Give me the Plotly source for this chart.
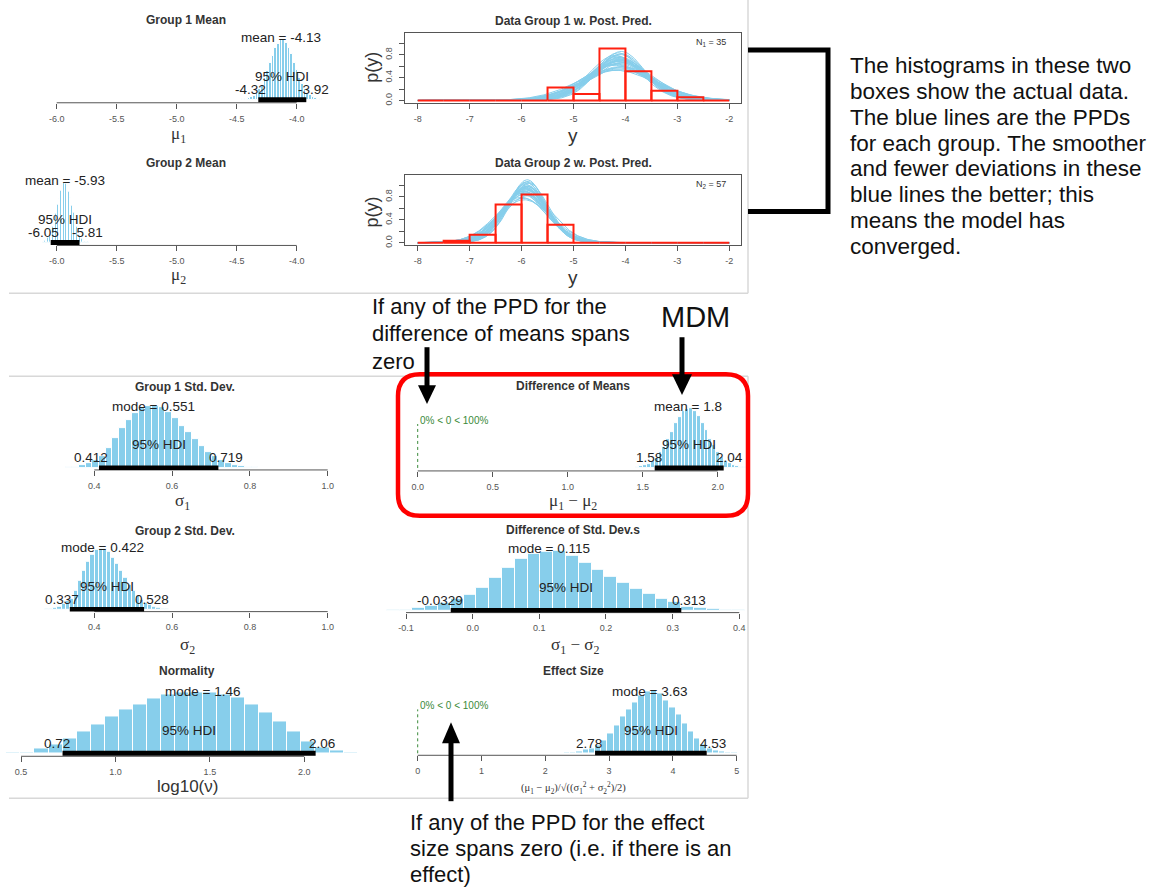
import math
import numpy as np
import plotly.graph_objects as go

W, H = 1153, 888
SANS = "Liberation Sans, Arial, sans-serif"
SERIF = "Liberation Serif, DejaVu Serif, serif"
SKY = "#87CEEB"

# ---------------- posterior histograms (bar heights, arbitrary units) ----------------
g1_mean_edge0 = -4.453
g1_mean_binw = 0.0222
g1_mean_hist = [0.4, 0.8, 1.5, 2.6, 4.2, 7.0, 10.6, 15.2, 21.8, 28.6, 36.9, 44.2, 51.6, 56.4, 59.8,
                59.5, 57.3, 51.8, 45.6, 37.3, 29.9, 22.1, 16.3, 10.8, 7.3, 4.4, 2.8, 1.4, 0.8, 0.4]
g1_mean_center = -4.13
g1_mean_hdi = [-4.32, -3.92]

g2_mean_edge0 = -6.130
g2_mean_binw = 0.0133
g2_mean_hist = [0.3, 0.9, 1.5, 2.4, 4.6, 6.8, 11.2, 15.4, 22.5, 28.7, 37.6, 44.3, 52.4, 56.5, 60.0,
                59.2, 57.3, 51.1, 45.4, 36.6, 29.6, 21.5, 16.1, 10.5, 7.2, 4.2, 2.7, 1.3, 0.9, 0.4]
g2_mean_center = -5.93
g2_mean_hdi = [-6.05, -5.81]

g1_sd_edge0 = 0.3096
g1_sd_binw = 0.01706
g1_sd_hist = [0.3, 0.6, 1.2, 2.5, 4.5, 8, 12, 20, 30, 40, 48, 55, 60, 62, 62, 61, 56, 50, 42, 36,
              29, 22, 16, 12, 7.5, 5, 3, 1.8, 1.0, 0.6, 0.3, 0.15]
g1_sd_mode = 0.551
g1_sd_hdi = [0.412, 0.719]

g2_sd_edge0 = 0.2734
g2_sd_binw = 0.0106
g2_sd_hist = [0.4, 0.8, 1.6, 3, 5.5, 8.5, 11, 19, 29, 39, 48, 55, 59.5, 61, 61, 57.5, 52, 46, 39, 32,
              25, 19, 14, 10, 7, 4.5, 2.8, 1.7, 1.0, 0.6, 0.3, 0.15]
g2_sd_mode = 0.422
g2_sd_hdi = [0.337, 0.528]

nu_edge0 = 0.4224
nu_binw = 0.0744
nu_hist = [0.5, 1.3, 4.7, 8.5, 14.5, 22.3, 29, 36.7, 44, 49, 54.7, 59, 60.7, 61.3, 60.7, 59, 55.7,
           49, 40.7, 32.3, 22.3, 11.5, 5.7, 3.3, 0.9]
nu_mode = 1.46
nu_hdi = [0.72, 2.06]

dm_edge0 = 1.4264
dm_binw = 0.0256
dm_hist = [0.3, 0.7, 1.4, 2.7, 4.1, 7.2, 10.3, 15.6, 21.2, 29.3, 36.2, 44.8, 51.0, 57.0, 59.3,
           60.0, 56.6, 52.4, 45.0, 37.9, 29.2, 22.6, 15.8, 11.2, 7.0, 4.6, 2.6, 1.5, 0.7, 0.4]
dm_mean = 1.8
dm_hdi = [1.58, 2.04]

dsd_edge0 = -0.1481
dsd_binw = 0.0192
dsd_hist = [0.3, 0.6, 1.3, 2.7, 5, 8.3, 11.7, 16, 23, 33, 43, 52, 57, 59, 60, 55, 48, 41, 34, 28,
            22, 17, 12, 8.5, 4, 2.7, 1.7, 1, 0.5]
dsd_mode = 0.115
dsd_hdi = [-0.0329, 0.313]

es_edge0 = 2.1968
es_binw = 0.0972
es_hist = [0.3, 0.6, 1.2, 2.2, 3.5, 5.2, 8, 13, 20, 28, 37, 44, 51, 58, 62, 63, 60, 53, 46, 39, 30,
           22, 15, 9, 5.2, 3.2, 2, 1.2, 0.6, 0.3]
es_mode = 3.63
es_hdi = [2.78, 4.53]

# ---------------- tick values ----------------
mean_ticks = [-6.0, -5.5, -5.0, -4.5, -4.0]
mean_ticktext = ["-6.0", "-5.5", "-5.0", "-4.5", "-4.0"]
sd_ticks = [0.4, 0.6, 0.8, 1.0]
sd_ticktext = ["0.4", "0.6", "0.8", "1.0"]
nu_ticks = [0.5, 1.0, 1.5, 2.0]
nu_ticktext = ["0.5", "1.0", "1.5", "2.0"]
dm_ticks = [0.0, 0.5, 1.0, 1.5, 2.0]
dm_ticktext = ["0.0", "0.5", "1.0", "1.5", "2.0"]
dsd_ticks = [-0.1, 0.0, 0.1, 0.2, 0.3, 0.4]
dsd_ticktext = ["-0.1", "0.0", "0.1", "0.2", "0.3", "0.4"]
es_ticks = [0, 1, 2, 3, 4, 5]
es_ticktext = ["0", "1", "2", "3", "4", "5"]
y_ticks = [-8, -7, -6, -5, -4, -3, -2]
y_ticktext = ["-8", "-7", "-6", "-5", "-4", "-3", "-2"]
py_ticks = [0.0, 0.2, 0.4, 0.6, 0.8, 1.0]
py_ticktext = ["0.0", "", "0.4", "", "0.8", ""]

# ---------------- observed data + posterior predictive draws ----------------
data_bin_edges = [-8.0, -7.5, -7.0, -6.5, -6.0, -5.5, -5.0, -4.5, -4.0, -3.5, -3.0, -2.5, -2.0]
g1_counts = [0, 0, 0, 0, 0, 4, 2, 16, 9, 3, 1, 0]
g2_counts = [0, 1, 4, 19, 24, 9, 0, 0, 0, 0, 0, 0]
N1, N2 = 35, 57

ppd_mu1 = [-4.13, -4.08, -4.18, -4.10, -4.15, -4.05, -4.20, -4.12, -4.16, -4.09, -4.14, -4.11, -4.22,
           -4.07, -4.13, -4.17, -4.04, -4.12, -4.19, -4.10, -4.14, -4.06, -4.16, -4.11, -4.13, -4.08,
           -4.21, -4.15, -4.09, -4.12]
ppd_sigma1 = [0.55, 0.48, 0.62, 0.52, 0.58, 0.66, 0.50, 0.71, 0.54, 0.60, 0.47, 0.57, 0.64, 0.53, 0.69,
              0.51, 0.59, 0.56, 0.75, 0.49, 0.61, 0.55, 0.52, 0.67, 0.58, 0.46, 0.63, 0.54, 0.57, 0.73]
ppd_mu2 = [-5.93, -5.90, -5.97, -5.88, -5.95, -5.92, -6.00, -5.91, -5.94, -5.86, -5.96, -5.93, -5.89,
           -5.99, -5.92, -5.95, -5.90, -5.98, -5.93, -5.87, -5.94, -5.91, -5.96, -5.92, -5.89, -5.97,
           -5.93, -5.95, -5.90, -5.94]
ppd_sigma2 = [0.42, 0.39, 0.46, 0.37, 0.44, 0.41, 0.50, 0.40, 0.43, 0.38, 0.47, 0.42, 0.36, 0.45, 0.41,
              0.53, 0.40, 0.44, 0.39, 0.48, 0.42, 0.37, 0.45, 0.43, 0.40, 0.51, 0.41, 0.44, 0.38, 0.46]
ppd_nu = [29, 18, 45, 25, 60, 12, 33, 22, 80, 28, 15, 40, 26, 9, 35, 55, 20, 31, 70, 24, 38, 14, 27,
          48, 19, 30, 100, 23, 42, 17]

# ---------------- helpers ----------------
def PX(px):
    return px / W


def PY(py):
    return 1 - py / H


def lin_range(ta, tb, lo_px, hi_px):
    (va, pa), (vb, pb) = ta, tb
    s = (pb - pa) / (vb - va)
    return [va + (lo_px - pa) / s, va + (hi_px - pa) / s]


def t_pdf(x, mu, sigma, nu):
    c = math.exp(math.lgamma((nu + 1) / 2) - math.lgamma(nu / 2)) / (math.sqrt(nu * math.pi) * sigma)
    return c * (1 + ((x - mu) / sigma) ** 2 / nu) ** (-(nu + 1) / 2)


fig = go.Figure()
shapes = []
annotations = []
axes = {}
TICKFONT = dict(family=SANS, size=9, color="#555")


def txt(text, x, y, size, color="#222", family=SANS, xanchor="center", yanchor="middle", **kw):
    annotations.append(dict(text=text, x=PX(x), y=PY(y), xref="paper", yref="paper", showarrow=False,
                            xanchor=xanchor, yanchor=yanchor,
                            font=dict(size=size, color=color, family=family), **kw))


def axis_names(n):
    s = "" if n == 1 else str(n)
    return "xaxis" + s, "yaxis" + s, "x" + s, "y" + s


def add_post(n, edge0, binw, hist, cen, cen_name, hdi, ticks, ticktext, title, xlabel, xlabel_family,
             L, R, B, yb, ta, tb, title_xy, xlabel_xy, comp=False):
    xa, ya, xr, yr = axis_names(n)
    T = yb - 80
    axes[xa] = dict(domain=[PX(L), PX(R)], range=lin_range(ta, tb, L, R), anchor=yr,
                    tickvals=ticks, ticktext=ticktext, ticks="outside", ticklen=5, tickwidth=1,
                    tickcolor="#555", showline=False, showgrid=False, zeroline=False,
                    tickfont=TICKFONT, ticklabelstandoff=2, fixedrange=True)
    axes[ya] = dict(domain=[PY(B), PY(T)], range=[-(B - yb), yb - T], anchor=xr, visible=False,
                    fixedrange=True)
    centers = [edge0 + binw * (i + 0.5) for i in range(len(hist))]
    fig.add_trace(go.Bar(x=centers, y=hist, width=binw, xaxis=xr, yaxis=yr,
                         marker=dict(color=SKY, line=dict(color="white", width=1)), hoverinfo="skip"))
    # R-style axis line from first to last tick
    shapes.append(dict(type="line", xref=xr, yref=yr + " domain", x0=ticks[0], x1=ticks[-1], y0=0, y1=0,
                       line=dict(color="#555", width=1)))
    # HDI bar
    shapes.append(dict(type="line", xref=xr, yref=yr, x0=hdi[0], x1=hdi[1], y0=0, y1=0,
                       line=dict(color="black", width=5)))
    lab_font = dict(family=SANS, size=13.5, color="#222")
    annotations.append(dict(text=f"{cen_name} = {cen:g}", x=cen, y=62, xref=xr, yref=yr, showarrow=False,
                            xanchor="center", yanchor="middle", font=lab_font))
    annotations.append(dict(text="95% HDI", x=(hdi[0] + hdi[1]) / 2, y=23, xref=xr, yref=yr,
                            showarrow=False, xanchor="center", yanchor="middle", font=lab_font))
    lo_t, hi_t = f"{hdi[0]:g}", f"{hdi[1]:g}"
    annotations.append(dict(text=lo_t, x=hdi[0], y=10, xref=xr, yref=yr, showarrow=False,
                            xanchor="center", yanchor="middle", xshift=-1.5 * len(lo_t), font=lab_font))
    annotations.append(dict(text=hi_t, x=hdi[1], y=10, xref=xr, yref=yr, showarrow=False,
                            xanchor="center", yanchor="middle", xshift=1.5 * len(hi_t), font=lab_font))
    if comp:
        shapes.append(dict(type="line", xref=xr, yref=yr, x0=0, x1=0, y0=0, y1=44,
                           line=dict(color="#3a8a3a", width=1, dash="dot")))
        annotations.append(dict(text="0% < 0 < 100%", x=0, y=48, xref=xr, yref=yr, showarrow=False,
                                xanchor="left", yanchor="middle",
                                font=dict(family=SANS, size=10, color="#3a8a3a")))
    txt(f"<b>{title}</b>", title_xy[0], title_xy[1], 12, color="#333")
    txt(xlabel, xlabel_xy[0], xlabel_xy[1], xlabel_family[1], color="#333", family=xlabel_family[0])


def add_ppd(n, counts, N, mus, sigmas, nus, Nlab, title, L, R, T, B, y0px, yscale, title_y, xlabel_y,
            ylabel_y, nlab_y):
    xa, ya, xr, yr = axis_names(n)
    ta, tb = (-8, 417.7), (-2, 729.3)
    axes[xa] = dict(domain=[PX(L), PX(R)], range=lin_range(ta, tb, L, R), anchor=yr,
                    tickvals=y_ticks, ticktext=y_ticktext, ticks="outside", ticklen=5, tickwidth=1,
                    tickcolor="#555", showline=True, mirror=True, linecolor="#555", linewidth=1,
                    showgrid=False, zeroline=False, ticklabelstandoff=2,
                    tickfont=TICKFONT, fixedrange=True)
    axes[ya] = dict(domain=[PY(B), PY(T)], range=[-(B - y0px) / yscale, (y0px - T) / yscale], anchor=xr,
                    tickvals=py_ticks, ticktext=py_ticktext, ticks="outside", ticklen=5, tickwidth=1,
                    tickcolor="#555", showline=True, mirror=True, linecolor="#555", linewidth=1,
                    showgrid=False, zeroline=False, tickangle=-90, ticklabelstandoff=3,
                    tickfont=TICKFONT, fixedrange=True)
    xs = np.linspace(-8, -2, 241)
    cx, cy = [], []
    for mu, sg, nu in zip(mus, sigmas, nus):
        cx += list(xs) + [None]
        cy += [t_pdf(v, mu, sg, nu) for v in xs] + [None]
    fig.add_trace(go.Scatter(x=cx, y=cy, mode="lines", xaxis=xr, yaxis=yr,
                             line=dict(color=SKY, width=1), hoverinfo="skip"))
    hx, hy = [], []
    for i, c in enumerate(counts):
        a, b = data_bin_edges[i], data_bin_edges[i + 1]
        d = c / (N * (b - a))
        hx += [a, a, b, b, a, None]
        hy += [0, d, d, 0, 0, None]
    fig.add_trace(go.Scatter(x=hx, y=hy, mode="lines", xaxis=xr, yaxis=yr,
                             line=dict(color="#ff2010", width=2), hoverinfo="skip"))
    txt(f"<b>{title}</b>", 573, title_y, 12, color="#333")
    txt("y", 573, xlabel_y, 19, color="#333")
    txt("p(y)", 372, ylabel_y, 18, color="#333", textangle=-90)
    txt(Nlab, 728, nlab_y, 9, color="#333", xanchor="right")


# ---------------- panels ----------------
MU = (SERIF, 17)
add_post(1, g1_mean_edge0, g1_mean_binw, g1_mean_hist, g1_mean_center, "mean", g1_mean_hdi,
         mean_ticks, mean_ticktext, "Group 1 Mean", "μ<sub>1</sub>", MU,
         20, 345, 103, 100, (-6.0, 56.7), (-4.0, 296.7), (186, 20), (178, 135))
add_post(2, g2_mean_edge0, g2_mean_binw, g2_mean_hist, g2_mean_center, "mean", g2_mean_hdi,
         mean_ticks, mean_ticktext, "Group 2 Mean", "μ<sub>2</sub>", MU,
         20, 345, 246, 243, (-6.0, 56.7), (-4.0, 296.7), (186, 163), (178, 277))
add_ppd(3, g1_counts, N1, ppd_mu1, ppd_sigma1, ppd_nu, "N<sub>1</sub> = 35", "Data Group 1 w. Post. Pred.",
        405, 741, 33, 103.5, 100.7, 57.1, 21, 136, 68, 43)
add_ppd(4, g2_counts, N2, ppd_mu2, ppd_sigma2, ppd_nu, "N<sub>2</sub> = 57", "Data Group 2 w. Post. Pred.",
        405, 741, 175, 246, 243.3, 57.5, 163, 278, 213, 185)
add_post(5, g1_sd_edge0, g1_sd_binw, g1_sd_hist, g1_sd_mode, "mode", g1_sd_hdi,
         sd_ticks, sd_ticktext, "Group 1 Std. Dev.", "σ<sub>1</sub>", MU,
         20, 345, 471, 469, (0.4, 94.3), (1.0, 327.7), (185, 388), (182, 503))
add_post(6, g2_sd_edge0, g2_sd_binw, g2_sd_hist, g2_sd_mode, "mode", g2_sd_hdi,
         sd_ticks, sd_ticktext, "Group 2 Std. Dev.", "σ<sub>2</sub>", MU,
         20, 345, 613, 611, (0.4, 94.3), (1.0, 327.7), (185, 532), (187, 647))
add_post(7, nu_edge0, nu_binw, nu_hist, nu_mode, "mode", nu_hdi,
         nu_ticks, nu_ticktext, "Normality", "log10(ν)", (SANS, 17),
         5, 368, 758, 755, (0.5, 21.0), (2.0, 304.3), (187, 673), (187, 788))
add_post(8, dm_edge0, dm_binw, dm_hist, dm_mean, "mean", dm_hdi,
         dm_ticks, dm_ticktext, "Difference of Means", "μ<sub>1</sub> − μ<sub>2</sub>", MU,
         395, 748, 472, 469, (0.0, 417.7), (2.0, 717.7), (573, 387), (573, 503), comp=True)
add_post(9, dsd_edge0, dsd_binw, dsd_hist, dsd_mode, "mode", dsd_hdi,
         dsd_ticks, dsd_ticktext, "Difference of Std. Dev.s", "σ<sub>1</sub> − σ<sub>2</sub>", MU,
         370, 748, 614, 612, (-0.1, 406.0), (0.4, 739.3), (573, 531), (575, 647))
add_post(10, es_edge0, es_binw, es_hist, es_mode, "mode", es_hdi,
         es_ticks, es_ticktext, "Effect Size",
         "(μ<sub>1</sub> − μ<sub>2</sub>)/√((σ<sub>1</sub><sup>2</sup> + σ<sub>2</sub><sup>2</sup>)/2)",
         (SERIF, 10.5), 395, 748, 757, 755, (0, 417.7), (5, 736.7), (573, 673), (573, 790), comp=True)

# ---------------- frames, highlight box, arrows ----------------
FR = dict(color="#d8d8d8", width=1.5)
for (x0, y0, x1, y1) in [(9, 294, 748, 294), (748, 0, 748, 294), (9, 377, 748, 377),
                         (748, 377, 748, 800), (9, 800, 748, 800)]:
    shapes.append(dict(type="line", xref="paper", yref="paper", x0=PX(x0), y0=PY(y0), x1=PX(x1),
                       y1=PY(y1), line=FR))


def rrect(x0, y0, x1, y1, r):
    rx, ry = r / W, r / H
    a, b, c, d = PX(x0), PY(y0), PX(x1), PY(y1)
    return (f"M {a+rx},{b} L {c-rx},{b} Q {c},{b} {c},{b-ry} L {c},{d+ry} Q {c},{d} {c-rx},{d} "
            f"L {a+rx},{d} Q {a},{d} {a},{d+ry} L {a},{b-ry} Q {a},{b} {a+rx},{b} Z")


shapes.append(dict(type="path", xref="paper", yref="paper", path=rrect(398, 375, 748, 517, 22),
                   line=dict(color="#ff0000", width=4.5), fillcolor="rgba(0,0,0,0)"))


def poly(pts, closed=True):
    p = "M " + " L ".join(f"{PX(x)},{PY(y)}" for x, y in pts)
    return p + (" Z" if closed else "")


# bracket
shapes.append(dict(type="path", xref="paper", yref="paper",
                   path=poly([(748, 50), (828, 50), (828, 212), (748, 212)], closed=False),
                   line=dict(color="black", width=5), fillcolor="rgba(0,0,0,0)"))
# arrows: shafts + heads
for (x, y0, y1) in [(427, 348, 390), (682, 338, 380), (451, 803, 740)]:
    shapes.append(dict(type="line", xref="paper", yref="paper", x0=PX(x), x1=PX(x), y0=PY(y0), y1=PY(y1),
                       line=dict(color="black", width=5)))
for pts in [[(418, 386), (436, 386), (427, 405)],
            [(672, 375), (692, 375), (682, 396)],
            [(442, 745), (460, 745), (451, 724)]]:
    shapes.append(dict(type="path", xref="paper", yref="paper", path=poly(pts),
                       fillcolor="black", line=dict(width=0)))

# ---------------- explanatory text ----------------
right_lines = ["The histograms in these two", "boxes show the actual data.", "The blue lines are the PPDs",
               "for each group. The smoother", "and fewer deviations in these", "blue lines the better; this",
               "means the model has", "converged."]
for i, s in enumerate(right_lines):
    txt(s, 848, 66 + i * 25.8, 22.5, color="#111", xanchor="left")
for i, s in enumerate(["If any of the PPD for the", "difference of means spans", "zero"]):
    txt(s, 370, 307 + i * 27.5, 22, color="#111", xanchor="left")
txt("MDM", 695, 318, 29, color="#111")
for i, s in enumerate(["If any of the PPD for the effect", "size spans zero (i.e. if there is an", "effect)"]):
    txt(s, 408, 824 + i * 26.3, 22, color="#111", xanchor="left")

fig.update_layout(width=W, height=H, margin=dict(l=0, r=0, t=0, b=0), paper_bgcolor="white",
                  plot_bgcolor="white", showlegend=False, shapes=shapes, annotations=annotations,
                  bargap=0, **axes)
fig.write_html("out.html")
